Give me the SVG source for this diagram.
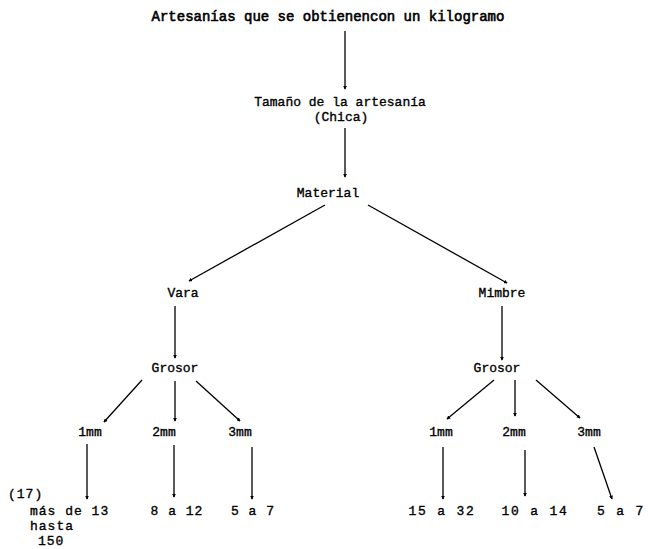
<svg xmlns="http://www.w3.org/2000/svg" width="648" height="549" viewBox="0 0 648 549">
<defs>
<marker id="ah" viewBox="0 0 6 6" refX="5" refY="3" markerWidth="3" markerHeight="3" orient="auto" markerUnits="strokeWidth">
<path d="M0,0 L6,3 L0,6 z" fill="#000"/>
</marker>
<style>
text{font-family:"Liberation Mono","Courier New",monospace;font-size:13px;fill:#000;stroke:#000;stroke-width:0.35;text-anchor:middle}
.t{font-size:14px;stroke-width:0.6}
.l{text-anchor:start}
.s{letter-spacing:1px}
.w{letter-spacing:1.8px}
line{stroke:#000;stroke-width:1.3;marker-end:url(#ah)}
</style>
</defs>
<rect width="648" height="549" fill="#fff"/>
<g id="n-title"><text class="t" x="328" y="21">Artesanías que se obtienencon un kilogramo</text></g>
<g id="n-tamano"><text x="340" y="106">Tamaño de la artesanía</text><text x="341" y="121">(Chica)</text></g>
<g id="n-material"><text x="328" y="197">Material</text></g>
<g id="n-vara"><text x="183" y="297">Vara</text></g>
<g id="n-mimbre"><text x="502" y="297">Mimbre</text></g>
<g id="n-grosor1"><text x="175" y="372">Grosor</text></g>
<g id="n-grosor2"><text x="497" y="372">Grosor</text></g>
<g id="n-v1"><text x="90" y="436">1mm</text></g>
<g id="n-v2"><text x="164" y="436">2mm</text></g>
<g id="n-v3"><text x="240" y="436">3mm</text></g>
<g id="n-m1"><text x="441" y="436">1mm</text></g>
<g id="n-m2"><text x="514" y="436">2mm</text></g>
<g id="n-m3"><text x="589" y="436">3mm</text></g>
<g id="n-17"><text class="l s" x="8" y="498">(17)</text></g>
<g id="n-vl1"><text class="l s" x="30" y="515">más de 13</text><text class="l s" x="30" y="530">hasta</text><text class="l s" x="38" y="545">150</text></g>
<g id="n-vl2"><text class="s" x="177" y="515">8 a 12</text></g>
<g id="n-vl3"><text class="s" x="253" y="515">5 a 7</text></g>
<g id="n-ml1"><text class="w" x="442" y="515">15 a 32</text></g>
<g id="n-ml2"><text class="w" x="535" y="515">10 a 14</text></g>
<g id="n-ml3"><text class="w" x="621" y="515">5 a 7</text></g>
<g id="connectors">
<line x1="345" y1="31" x2="345" y2="89"/>
<line x1="345" y1="128" x2="345" y2="177"/>
<line x1="325" y1="205" x2="189" y2="281"/>
<line x1="368" y1="205" x2="507" y2="283"/>
<line x1="175" y1="306" x2="175" y2="358"/>
<line x1="502" y1="306" x2="502" y2="360"/>
<line x1="142" y1="380" x2="104" y2="422"/>
<line x1="175" y1="381" x2="175" y2="421"/>
<line x1="196" y1="381" x2="240" y2="421"/>
<line x1="494" y1="380" x2="447" y2="419"/>
<line x1="515" y1="380" x2="515" y2="416"/>
<line x1="536" y1="380" x2="580" y2="418"/>
<line x1="87" y1="444" x2="87" y2="499"/>
<line x1="174" y1="445" x2="174" y2="497"/>
<line x1="252" y1="447" x2="252" y2="499"/>
<line x1="443" y1="447" x2="443" y2="499"/>
<line x1="525" y1="450" x2="525" y2="496"/>
<line x1="594" y1="447" x2="612" y2="499"/>
</g>
</svg>
